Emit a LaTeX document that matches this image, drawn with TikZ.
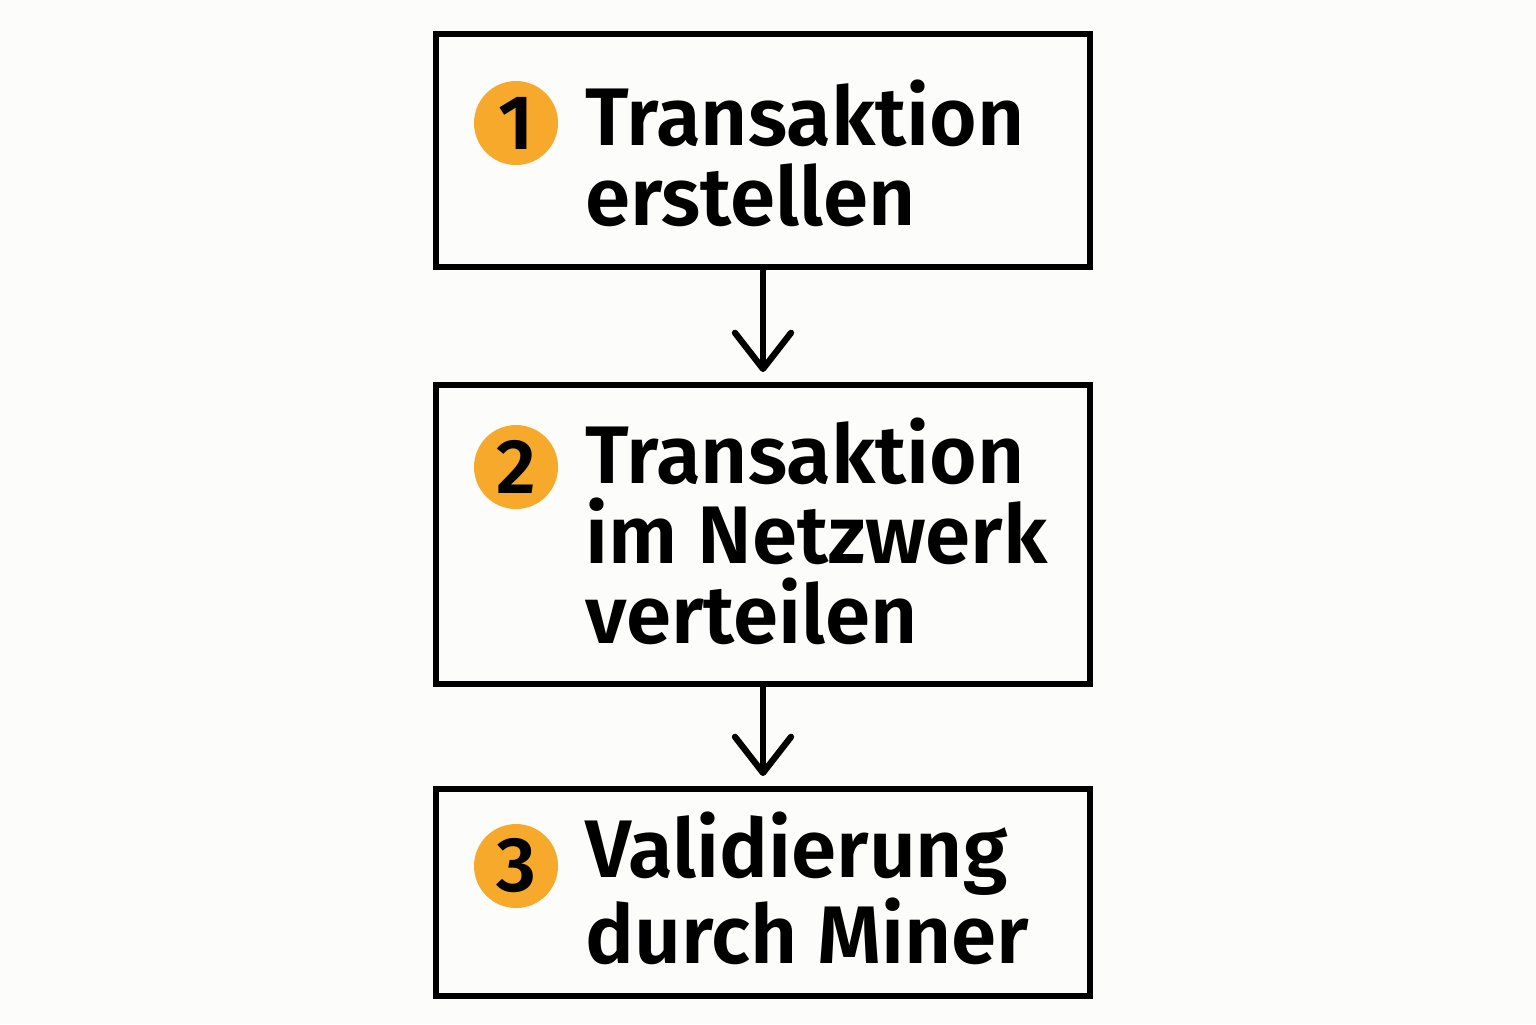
\documentclass[tikz,border=0pt]{standalone}
\usepackage{fontspec}
\setmainfont{Fira Sans}[BoldFont={* SemiBold}]
\usetikzlibrary{arrows.meta}
\definecolor{badgeorange}{HTML}{F6A92B}
\definecolor{paper}{HTML}{FCFCFA}

\tikzset{
  stepbox/.style={draw,line width=3.4pt,minimum width=13.08cm,fill=paper},
  badge/.style={circle,fill=badgeorange,minimum size=1.68cm,inner sep=0pt,
    font=\fontsize{44}{44}\selectfont\bfseries},
  steptext/.style={anchor=base west,align=left,inner sep=0pt,
    font=\fontsize{46.5}{45.5}\selectfont\bfseries},
  flow/.style={-{Straight Barb[length=0.72cm,width=1.12cm,round]},line width=3.6pt,shorten >=0.2cm}
}

\begin{document}
\begin{tikzpicture}
\useasboundingbox[fill=paper] (0,0) rectangle (30.72,-20.48);
  \node[stepbox,minimum height=4.66cm] at (15.26,-3.01) (b1){};
  \node[stepbox,minimum height=5.98cm] at ([yshift=-7.68cm]b1) (b2){};
  \node[stepbox,minimum height=4.14cm] at ([yshift=-7.16cm]b2) (b3){};

  \node[badge] at ([xshift=1.66cm,yshift=-1.84cm]b1.north west) (n1){1};
  \node[steptext] at ([xshift=3.04cm,yshift=-3.88cm]b1.north west) (t1){Transaktion\\erstellen};

  \node[badge] at ([xshift=1.66cm,yshift=-1.70cm]b2.north west) (n2){2};
  \node[steptext] at ([xshift=3.04cm,yshift=-5.22cm]b2.north west) (t2){Transaktion\\im Netzwerk\\verteilen};

  \node[badge] at ([xshift=1.66cm,yshift=-1.60cm]b3.north west) (n3){3};
  \node[steptext] at ([xshift=3.04cm,yshift=-3.54cm]b3.north west) (t3){Validierung\\durch Miner};

  \draw[flow] (b1.south) -- (b2.north);
  \draw[flow] (b2.south) -- (b3.north);
\end{tikzpicture}
\end{document}
